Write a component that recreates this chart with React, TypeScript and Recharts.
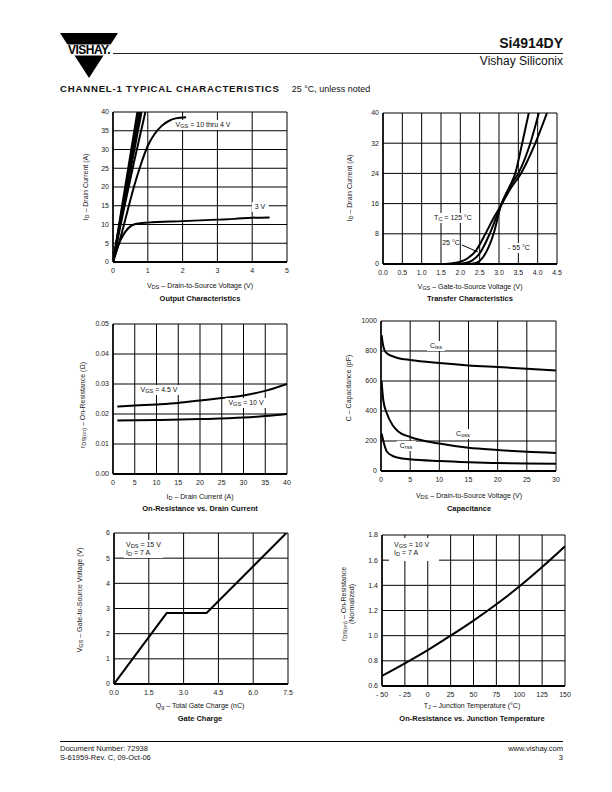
import React from "react";
import { CartesianGrid, Line, LineChart, XAxis, YAxis } from "recharts";

// output characteristics, [VDS, ID]
const out10V = [[0, 0], [0.7, 40]];
const out8V = [[0, 0], [0.74, 40]];
const out6V = [[0, 0], [0.78, 40]];
const out5V = [[0, 0], [0.82, 40]];
const out45V = [[0, 0], [0.3, 13.5], [0.6, 26.5], [0.93, 40]];
const out4V = [[0, 0], [0.2, 6], [0.4, 13], [0.6, 20], [0.8, 26], [1.0, 31], [1.2, 34.2], [1.4, 36.3], [1.6, 37.6], [1.8, 38.3], [2.1, 38.6]];
const out3V = [[0, 0], [0.1, 3], [0.2, 5.5], [0.3, 7.3], [0.4, 8.6], [0.5, 9.5], [0.6, 10], [0.75, 10.3], [1, 10.5], [2, 10.9], [3, 11.3], [3.5, 11.5], [4, 11.8], [4.5, 11.9]];

// transfer characteristics, [VGS, ID]
const tr125 = [[0, 0], [1.6, 0], [1.8, 0.2], [2.0, 0.6], [2.2, 1.6], [2.4, 3.5], [2.65, 8], [2.85, 12], [3.05, 15.5], [3.3, 20], [3.57, 24], [3.94, 32], [4.24, 40]];
const tr25 = [[0, 0], [1.9, 0], [2.1, 0.2], [2.3, 0.9], [2.5, 2.8], [2.76, 8], [3.05, 15.5], [3.3, 20.8], [3.5, 24], [3.81, 32], [4.03, 40]];
const trM55 = [[0, 0], [2.2, 0], [2.4, 0.3], [2.6, 2], [2.86, 8], [3.05, 15.5], [3.25, 20], [3.42, 24], [3.6, 32], [3.77, 40]];

// on-resistance vs drain current, [ID, rDS(on)]
const ron45 = [[1, 0.0225], [5, 0.0228], [10, 0.0232], [15, 0.0237], [20, 0.0245], [25, 0.0253], [30, 0.0262], [35, 0.0277], [40, 0.03]];
const ron10 = [[1, 0.0178], [10, 0.018], [20, 0.0183], [30, 0.0188], [35, 0.0193], [40, 0.02]];

// capacitance, [VDS, pF]
const ciss = [[0.1, 905], [0.3, 850], [0.6, 805], [1, 785], [2, 765], [3, 752], [5, 740], [10, 720], [15, 704], [20, 693], [25, 682], [30, 670]];
const coss = [[0.1, 600], [0.4, 470], [1, 385], [2, 305], [3, 262], [5, 227], [10, 183], [15, 155], [20, 140], [25, 128], [30, 120]];
const crss = [[0.1, 250], [0.5, 185], [1, 130], [2, 100], [3, 88], [5, 78], [10, 66], [15, 58], [20, 53], [25, 50], [30, 48]];

// gate charge, [Qg, VGS]
const gateQ = [[0, 0], [2.27, 2.82], [3.99, 2.82], [7.43, 6]];

// on-resistance vs junction temperature, [TJ, normalized]
const ronTemp = [[-50, 0.68], [-25, 0.78], [0, 0.885], [25, 1.0], [50, 1.12], [75, 1.25], [100, 1.39], [125, 1.545], [150, 1.71]];

const ticks05 = [0, 1, 2, 3, 4, 5];
const ticks040 = [0, 5, 10, 15, 20, 25, 30, 35, 40];
const ticksVgs = [0, 0.5, 1, 1.5, 2, 2.5, 3, 3.5, 4, 4.5];
const ticksTr = [0, 8, 16, 24, 32, 40];
const ticksRon = [0, 0.01, 0.02, 0.03, 0.04, 0.05];
const ticksVds30 = [0, 5, 10, 15, 20, 25, 30];
const ticksCap = [0, 200, 400, 600, 800, 1000];
const ticksQg = [0, 1.5, 3, 4.5, 6, 7.5];
const ticksVgs6 = [0, 1, 2, 3, 4, 5, 6];
const ticksTj = [-50, -25, 0, 25, 50, 75, 100, 125, 150];
const ticksNorm = [0.6, 0.8, 1.0, 1.2, 1.4, 1.6, 1.8];

const pts = (a: number[][]) => a.map(([x, y]) => ({ x, y }));

const FONT = "'Liberation Sans', Arial, sans-serif";
const tickStyle = { fontSize: 7, fill: "#222", fontFamily: FONT };

function Curve({ data, type = "monotone" }: { data: number[][]; type?: any }) {
  return (
    <Line
      data={pts(data)}
      dataKey="y"
      type={type}
      stroke="#000"
      strokeWidth={2}
      dot={false}
      isAnimationActive={false}
    />
  );
}

function Panel(props: any) {
  const { x, y, w, h, xDomain, xTicks, yDomain, yTicks, xFmt, yFmt, children } = props;
  return (
    <div style={{ position: "absolute", left: x - 30, top: y - 5 }}>
      <LineChart width={w + 40} height={h + 21} margin={{ top: 5, right: 10, bottom: 0, left: 0 }}>
        <CartesianGrid stroke="#000" strokeWidth={1} />
        <XAxis
          type="number"
          dataKey="x"
          domain={xDomain}
          ticks={xTicks}
          tickFormatter={xFmt}
          allowDataOverflow
          height={16}
          tickLine={false}
          tickSize={4}
          tickMargin={2}
          axisLine={{ stroke: "#000", strokeWidth: 2 }}
          tick={tickStyle}
          interval={0}
        />
        <YAxis
          type="number"
          domain={yDomain}
          ticks={yTicks}
          tickFormatter={yFmt}
          allowDataOverflow
          width={30}
          tickLine={false}
          tickSize={2}
          tickMargin={2}
          axisLine={{ stroke: "#000", strokeWidth: 1.5 }}
          tick={tickStyle}
          interval={0}
        />
        {children}
      </LineChart>
    </div>
  );
}

const Sub = ({ children }: any) => (
  <span style={{ fontSize: "0.8em", position: "relative", top: "0.25em" }}>{children}</span>
);

function Txt({ x, y, children, size = 7, bold = false, anchor = "middle", bg = false }: any) {
  const tx = anchor === "middle" ? "-50%" : anchor === "end" ? "-100%" : "0";
  return (
    <div
      style={{
        position: "absolute",
        left: x,
        top: y,
        transform: `translate(${tx}, -50%)`,
        whiteSpace: "nowrap",
        fontSize: size,
        fontWeight: bold ? "bold" : "normal",
        color: "#111",
        background: bg ? "#fff" : "transparent",
        padding: bg ? "1px 3px" : 0,
        lineHeight: 1.15,
      }}
    >
      {children}
    </div>
  );
}

function VTxt({ x, y, children, size = 7 }: any) {
  return (
    <div
      style={{
        position: "absolute",
        left: x,
        top: y,
        transform: "translate(-50%, -50%) rotate(-90deg)",
        whiteSpace: "nowrap",
        fontSize: size,
        color: "#222",
        lineHeight: 1.15,
        textAlign: "center",
      }}
    >
      {children}
    </div>
  );
}

export default function App() {
  return (
    <div
      style={{
        position: "absolute",
        left: 0,
        top: 0,
        width: 612,
        height: 792,
        background: "#fff",
        fontFamily: FONT,
        overflow: "hidden",
      }}
    >
      {/* header */}
      <svg style={{ position: "absolute", left: 0, top: 0 }} width={612} height={100}>
        <polygon points="60,33 118,33 89,78" fill="#000" />
        <rect x={58} y={44.5} width={62} height={11} fill="#fff" />
        <text x={89} y={54} textAnchor="middle" fontFamily={FONT} fontWeight="bold" fontSize={12} letterSpacing={-0.5}>
          VISHAY.
        </text>
        <line x1={113} y1={53.5} x2={563} y2={53.5} stroke="#222" strokeWidth={1} />
      </svg>
      <Txt x={563} y={43} size={14} bold anchor="end">Si4914DY</Txt>
      <Txt x={563} y={62} size={12} anchor="end">Vishay Siliconix</Txt>
      <Txt x={60} y={89} size={9.6} bold anchor="start">
        <span style={{ fontWeight: 900, letterSpacing: 0.8 }}>CHANNEL-1 TYPICAL CHARACTERISTICS</span>
        <span style={{ fontWeight: "normal", fontSize: 9, marginLeft: 12 }}>25 °C, unless noted</span>
      </Txt>

      {/* Output characteristics */}
      <Panel x={113} y={112} w={174} h={150} xDomain={[0, 5]} xTicks={ticks05} yDomain={[0, 40]} yTicks={ticks040}>
        <Curve data={out10V} type="linear" />
        <Curve data={out8V} type="linear" />
        <Curve data={out6V} type="linear" />
        <Curve data={out5V} type="linear" />
        <Curve data={out45V} />
        <Curve data={out4V} />
        <Curve data={out3V} />
      </Panel>
      <Txt x={203} y={125} bg>V<Sub>GS</Sub> = 10 thru 4 V</Txt>
      <Txt x={260} y={207} bg>3 V</Txt>
      <VTxt x={86} y={187}>I<Sub>D</Sub> – Drain Current (A)</VTxt>
      <Txt x={200} y={286}>V<Sub>DS</Sub> – Drain-to-Source Voltage (V)</Txt>
      <Txt x={200} y={299} bold size={7.5}>Output Characteristics</Txt>

      {/* Transfer characteristics */}
      <Panel x={383} y={113} w={174} h={151} xDomain={[0, 4.5]} xTicks={ticksVgs} xFmt={(v: number) => v.toFixed(1)} yDomain={[0, 40]} yTicks={ticksTr}>
        <Curve data={tr125} />
        <Curve data={tr25} />
        <Curve data={trM55} />
      </Panel>
      <svg style={{ position: "absolute", left: 0, top: 0 }} width={612} height={300}>
        <line x1={462} y1={245} x2={478} y2={252} stroke="#000" strokeWidth={1} />
      </svg>
      <Txt x={453} y={218} bg>T<Sub>C</Sub> = 125 °C</Txt>
      <Txt x={451} y={243}>25 °C</Txt>
      <Txt x={519} y={248} bg>- 55 °C</Txt>
      <VTxt x={350} y={188}>I<Sub>D</Sub> – Drain Current (A)</VTxt>
      <Txt x={470} y={287}>V<Sub>GS</Sub> – Gate-to-Source Voltage (V)</Txt>
      <Txt x={470} y={299} bold size={7.5}>Transfer Characteristics</Txt>

      {/* On-resistance vs drain current */}
      <Panel x={113} y={324} w={174} h={150} xDomain={[0, 40]} xTicks={ticks040} yDomain={[0, 0.05]} yTicks={ticksRon} yFmt={(v: number) => v.toFixed(2)}>
        <Curve data={ron45} />
        <Curve data={ron10} />
      </Panel>
      <Txt x={159} y={390} bg>V<Sub>GS</Sub> = 4.5 V</Txt>
      <Txt x={246} y={403} bg>V<Sub>GS</Sub> = 10 V</Txt>
      <VTxt x={83} y={405}>r<Sub>DS(on)</Sub> – On-Resistance (Ω)</VTxt>
      <Txt x={200} y={497}>I<Sub>D</Sub> – Drain Current (A)</Txt>
      <Txt x={200} y={509} bold size={7.5}>On-Resistance vs. Drain Current</Txt>

      {/* Capacitance */}
      <Panel x={381} y={321} w={175} h={150} xDomain={[0, 30]} xTicks={ticksVds30} yDomain={[0, 1000]} yTicks={ticksCap}>
        <Curve data={ciss} />
        <Curve data={coss} />
        <Curve data={crss} />
      </Panel>
      <Txt x={436} y={346} bg>C<Sub>iss</Sub></Txt>
      <Txt x={463} y={434} bg>C<Sub>oss</Sub></Txt>
      <Txt x={406} y={446} bg>C<Sub>rss</Sub></Txt>
      <VTxt x={349} y={388}>C – Capacitance (pF)</VTxt>
      <Txt x={469} y={496}>V<Sub>DS</Sub> – Drain-to-Source Voltage (V)</Txt>
      <Txt x={469} y={509} bold size={7.5}>Capacitance</Txt>

      {/* Gate charge */}
      <Panel x={114} y={533} w={174} h={151} xDomain={[0, 7.5]} xTicks={ticksQg} xFmt={(v: number) => v.toFixed(1)} yDomain={[0, 6]} yTicks={ticksVgs6}>
        <Curve data={gateQ} type="linear" />
      </Panel>
      <div style={{ position: "absolute", left: 124, top: 540, fontSize: 7, lineHeight: 1.05, color: "#111", background: "#fff", padding: "1px 2px" }}>
        <div>V<Sub>DS</Sub> = 15 V</div>
        <div>I<Sub>D</Sub> = 7 A</div>
      </div>
      <VTxt x={80} y={600}>V<Sub>GS</Sub> – Gate-to-Source Voltage (V)</VTxt>
      <Txt x={200} y={706}>Q<Sub>g</Sub> – Total Gate Charge (nC)</Txt>
      <Txt x={200} y={719} bold size={7.5}>Gate Charge</Txt>

      {/* On-resistance vs junction temperature */}
      <Panel x={382} y={535} w={183} h={151} xDomain={[-50, 150]} xTicks={ticksTj} xFmt={(v: number) => (v < 0 ? `- ${Math.abs(v)}` : `${v}`)} yDomain={[0.6, 1.8]} yTicks={ticksNorm} yFmt={(v: number) => v.toFixed(1)}>
        <Curve data={ronTemp} />
      </Panel>
      <div style={{ position: "absolute", left: 389, top: 538, width: 50, height: 23, fontSize: 7, lineHeight: 1.05, color: "#111", background: "#fff", padding: "3px 0 0 5px", boxSizing: "border-box" }}>
        <div>V<Sub>GS</Sub> = 10 V</div>
        <div>I<Sub>D</Sub> = 7 A</div>
      </div>
      <VTxt x={348} y={604}>
        <div>r<Sub>DS(on)</Sub> – On-Resistance</div>
        <div>(Normalized)</div>
      </VTxt>
      <Txt x={472} y={706}>T<Sub>J</Sub> – Junction Temperature (°C)</Txt>
      <Txt x={472} y={719} bold size={7.5}>On-Resistance vs. Junction Temperature</Txt>

      {/* footer */}
      <div style={{ position: "absolute", left: 60, top: 741, width: 503, borderTop: "1px solid #000" }} />
      <div style={{ position: "absolute", left: 60, top: 744, fontSize: 7.5, lineHeight: "9px", color: "#111" }}>
        <div>Document Number: 72938</div>
        <div>S-61959-Rev. C, 09-Oct-06</div>
      </div>
      <div style={{ position: "absolute", right: 612 - 563, top: 744, fontSize: 7.5, lineHeight: "9px", color: "#111", textAlign: "right" }}>
        <div>www.vishay.com</div>
        <div>3</div>
      </div>
    </div>
  );
}
